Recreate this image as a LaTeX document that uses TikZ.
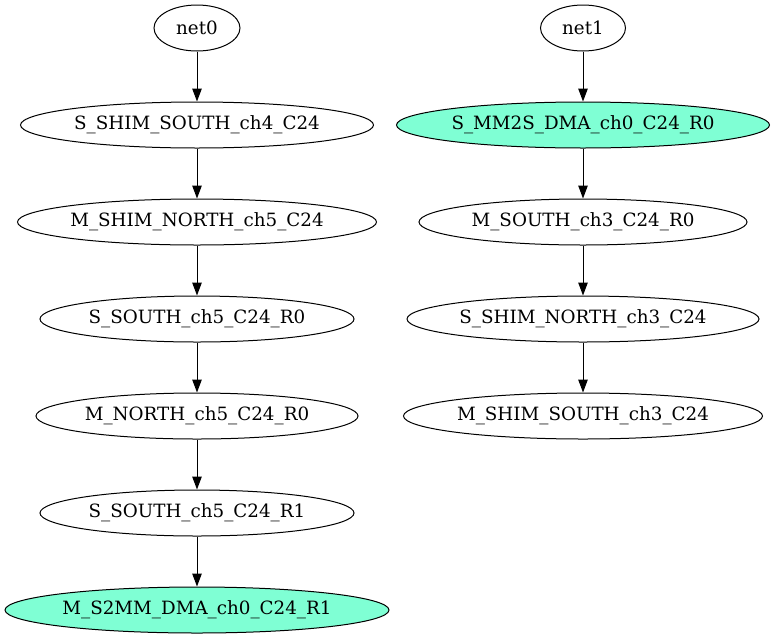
\documentclass[tikz,border=0pt]{standalone}
\usepackage{fontspec}
\setmainfont{DejaVu Serif}
\usetikzlibrary{shapes}
\usetikzlibrary{arrows.meta}
\usetikzlibrary{positioning}

\definecolor{aqua}{HTML}{7FFFD4}

\tikzset{
  port/.style={ellipse, draw, line width=1pt, inner sep=0pt,
    minimum height=46pt, minimum width=#1,
    font=\fontsize{18.3}{20}\selectfont},
  dma/.style={port=#1, fill=aqua},
  route/.style={line width=1pt, -{Triangle[length=13pt,width=9.5pt]}}
}

\begin{document}
\begin{tikzpicture}[x=1pt, y=1pt, node distance=50pt]
  \useasboundingbox (0,0) rectangle (776,-635);

  % net0
  \node[port=86pt] (net0) at (197,-28) {net0};
  \node[port=353pt, below=of net0] (ssshim4) {S\_SHIM\_SOUTH\_ch4\_C24};
  \node[port=359pt, below=of ssshim4] (mshimn5) {M\_SHIM\_NORTH\_ch5\_C24};
  \node[port=314pt, below=of mshimn5] (ssouth5r0) {S\_SOUTH\_ch5\_C24\_R0};
  \node[port=322pt, below=of ssouth5r0] (mnorth5r0) {M\_NORTH\_ch5\_C24\_R0};
  \node[port=314pt, below=of mnorth5r0] (ssouth5r1) {S\_SOUTH\_ch5\_C24\_R1};
  \node[dma=384pt, below=of ssouth5r1] (ms2mm) {M\_S2MM\_DMA\_ch0\_C24\_R1};

  % net1
  \node[port=85pt] (net1) at (583,-28) {net1};
  \node[dma=373pt, below=of net1] (smm2s) {S\_MM2S\_DMA\_ch0\_C24\_R0};
  \node[port=328pt, below=of smm2s] (msouth3) {M\_SOUTH\_ch3\_C24\_R0};
  \node[port=352pt, below=of msouth3] (sshimn3) {S\_SHIM\_NORTH\_ch3\_C24};
  \node[port=359pt, below=of sshimn3] (mshims3) {M\_SHIM\_SOUTH\_ch3\_C24};

  \foreach \a/\b in {net0/ssshim4, ssshim4/mshimn5, mshimn5/ssouth5r0,
      ssouth5r0/mnorth5r0, mnorth5r0/ssouth5r1, ssouth5r1/ms2mm,
      net1/smm2s, smm2s/msouth3, msouth3/sshimn3, sshimn3/mshims3} {
    \draw[route] (\a) -- (\b);
  }
\end{tikzpicture}
\end{document}
